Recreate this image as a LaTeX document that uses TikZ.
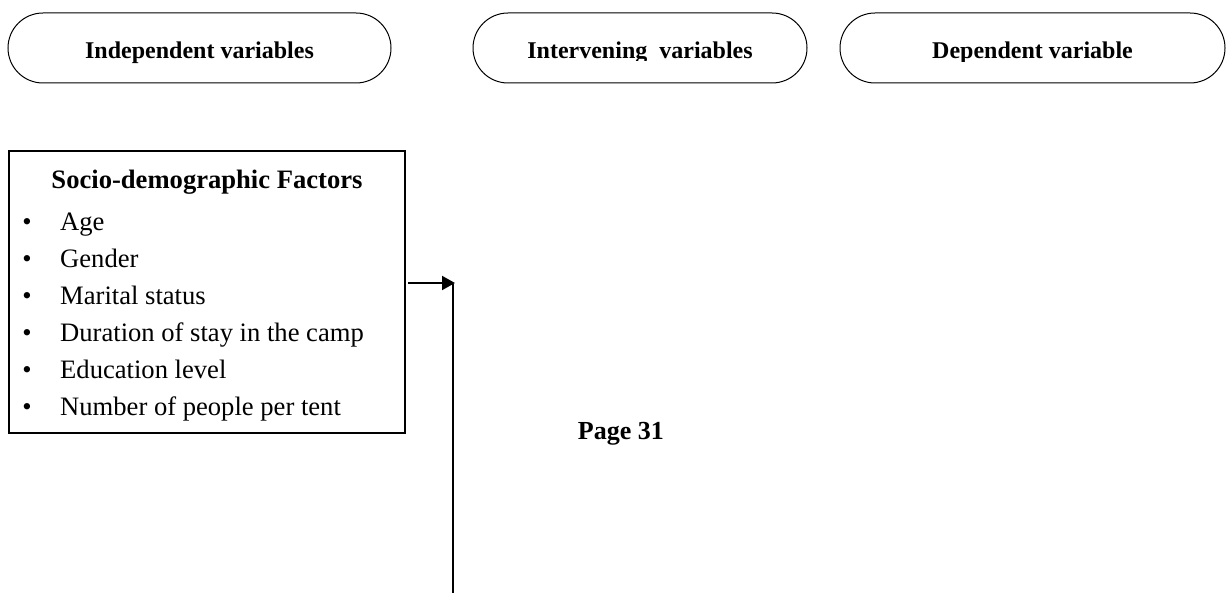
\documentclass[tikz,border=0pt]{standalone}
\usepackage{fontspec}
\setmainfont{Liberation Serif}
\usetikzlibrary{arrows.meta}
\begin{document}
\begin{tikzpicture}[x=1pt,y=-1pt,
  pill/.style={draw, line width=1pt, rounded corners=35pt, minimum width=#1,
    minimum height=70pt, inner sep=0pt},
  pilltext/.style={anchor=base, inner sep=0pt, font=\fontsize{24}{28}\selectfont\bfseries},
  factorbox/.style={draw, line width=2pt, minimum width=396pt, minimum height=282pt, inner sep=0pt},
  itemtext/.style={anchor=base west, inner sep=0pt, font=\fontsize{26.6}{30}\selectfont},
  bullet/.style={anchor=base, inner sep=0pt, font=\fontsize{26.6}{30}\selectfont},
  link/.style={line width=2pt}]
\useasboundingbox (0,0) rectangle (1228,593);

% column headers
\node[pill=383pt] (indep) at (199.5,48) {};
\node[pill=334pt] (interv) at (640,48) {};
\node[pill=385pt] (dep) at (1032.5,48) {};
\node[pilltext] (indeptxt) at (199.5,58.3) {Independent variables};
\begin{scope}
  \clip (400,0) rectangle (820,60.8);
  \node[pilltext] (intervtxt) at (640,58.6) {Intervening\ \ variables};
\end{scope}
\begin{scope}
  \clip (830,0) rectangle (1228,62);
  \node[pilltext] (deptxt) at (1032.5,58.3) {Dependent variable};
\end{scope}

% socio-demographic factors
\node[factorbox] (socio) at (207,292) {};
\node[anchor=base, inner sep=0pt, font=\fontsize{26.6}{30}\selectfont\bfseries]
  (sociohead) at (207,189) {Socio-demographic Factors};
\foreach \t [count=\n] in {Age, Gender, Marital status,
    Duration of stay in the camp, Education level,
    Number of people per tent} {
  \pgfmathsetmacro{\yy}{230.7+36.86*(\n-1)}
  \node[bullet] (b\n) at (27,\yy) {•};
  \node[itemtext] (item\n) at (60,\yy) {\t};
}

% page label
\node[anchor=base west, inner sep=0pt, font=\fontsize{26}{30}\selectfont\bfseries]
  (page) at (577.7,439) {Page 31};

% connectors
\coordinate (join) at (453,283);
\coordinate (foot) at (453,593);
\draw[link, -{Triangle[length=13pt,width=14pt]}] ([xshift=2pt]socio.east |- join) -- ([xshift=2pt]join);
\draw[link] ([yshift=-1pt]join) -- (foot);
\end{tikzpicture}
\end{document}
